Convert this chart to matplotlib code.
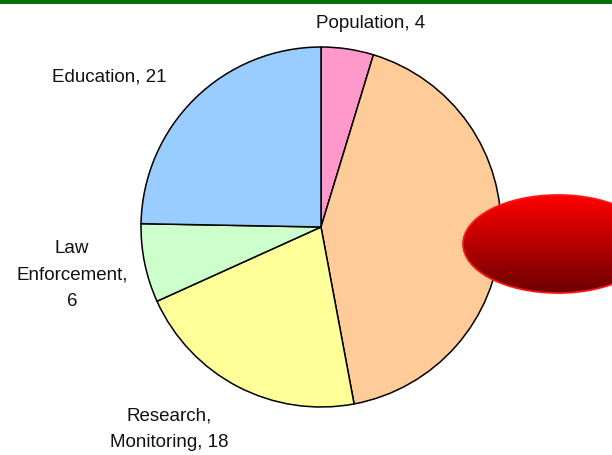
import numpy as np
import matplotlib
matplotlib.use("Agg")
import matplotlib.pyplot as plt
from matplotlib.patches import Ellipse

plt.rcParams['font.family'] = ['Liberation Sans', 'DejaVu Sans']

# slice values, clockwise from 12 o'clock
names = ["Population", "", "Research, Monitoring", "Law Enforcement", "Education"]
values = [4, 36, 18, 6, 21]
colors = ['#FF99CC', '#FFCC99', '#FFFF99', '#CCFFCC', '#99CCFF']

# label text as shown on the slide (orange slice label is hidden by the red oval)
label_text = ["Population, 4", "", "Research,\nMonitoring, 18", "Law\nEnforcement,\n6", "Education, 21"]
label_pos = [(371, 431), None, (169, 26), (72, 180), (109, 378)]

W, H = 612, 455
fig = plt.figure(figsize=(W / 100, H / 100), dpi=100)
ax = fig.add_axes([0, 0, 1, 1])

ax.pie(values, colors=colors, startangle=90, counterclock=False,
       center=(321, 228), radius=180,
       wedgeprops=dict(edgecolor='black', linewidth=1.1))

for txt, pos in zip(label_text, label_pos):
    if not txt:
        continue
    ax.text(pos[0], pos[1], txt, ha='center', va='center', multialignment='center',
            fontsize=13.5, linespacing=1.75, color='#111111')

# green rule at the top of the slide
ax.axhspan(H - 4, H, color='#0a6e0a', lw=0)

# red gradient oval on the right
oval = Ellipse((558, 211), 190, 98, facecolor='none', edgecolor='none')
ax.add_patch(oval)
grad = np.linspace(0, 1, 100)[:, None]
top = np.array([1.0, 0.0, 0.0])
bot = np.array([0.43, 0.0, 0.0])
img = top[None, None, :] * (1 - grad[:, :, None]) + bot[None, None, :] * grad[:, :, None]
im = ax.imshow(img, extent=[463, 653, 162, 260], aspect='auto', zorder=3)
im.set_clip_path(oval)
ax.add_patch(Ellipse((558, 211), 190, 98, facecolor='none', edgecolor='#ff1414',
                     linewidth=1.3, zorder=4))

ax.set_xlim(0, W)
ax.set_ylim(0, H)
ax.set_aspect('auto')
ax.axis('off')

fig.savefig('out.png', dpi=100)
